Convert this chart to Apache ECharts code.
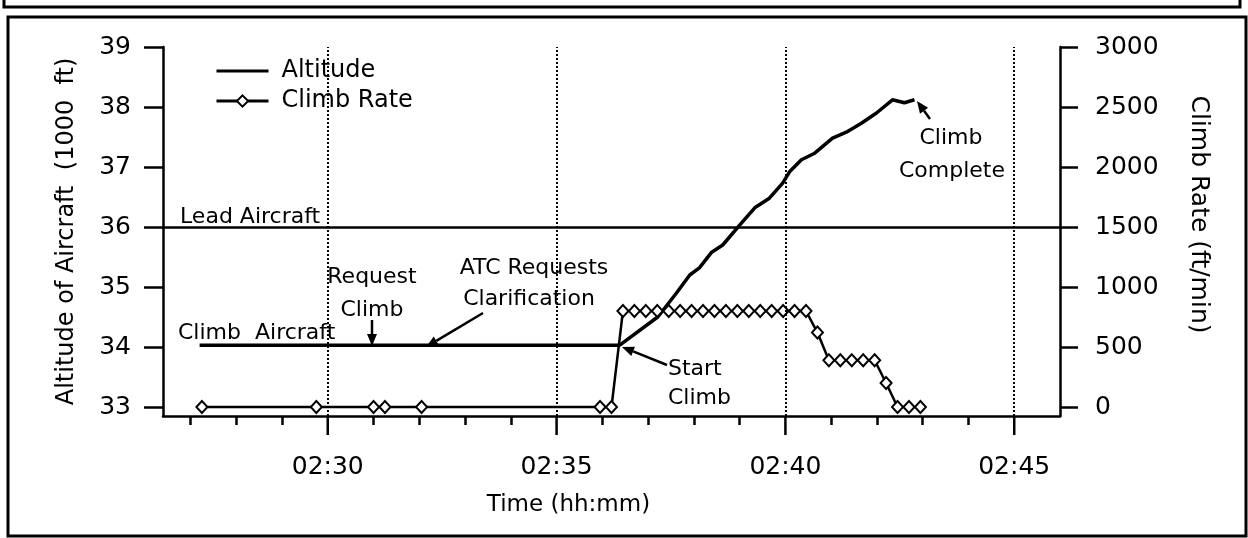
<!DOCTYPE html>
<html>
<head>
<meta charset="utf-8">
<title>Climb profile</title>
<script src="https://cdn.jsdelivr.net/npm/echarts@6/dist/echarts.min.js"></script>
<style>
  html, body { margin: 0; padding: 0; background: #fff; }
  #chart { width: 1248px; height: 538px; }
</style>
</head>
<body>
<div id="chart"></div>
<script>
  // times are minutes after 02:00
  const altTimes = [27.2, 36.38, 37.21, 37.62, 37.91, 38.12, 38.39, 38.63, 39.0, 39.33, 39.65,
    39.94, 40.09, 40.35, 40.64, 41.03, 41.33, 41.66, 41.99, 42.34, 42.6, 42.82];
  const altValues = [34.03, 34.03, 34.5, 34.9, 35.2, 35.32, 35.58, 35.7, 36.03, 36.32, 36.48,
    36.73, 36.92, 37.12, 37.23, 37.48, 37.58, 37.73, 37.9, 38.12, 38.07, 38.12];

  const climbTimes = [27.25, 29.75, 31.0, 31.25, 32.05, 35.95, 36.2,
    36.45, 36.7, 36.95, 37.2, 37.45, 37.7, 37.95, 38.2, 38.45, 38.7, 38.95, 39.2, 39.45, 39.7, 39.95, 40.2, 40.45,
    40.7, 40.95, 41.2, 41.45, 41.7, 41.95, 42.2, 42.45, 42.7, 42.95];
  const climbRates = [0, 0, 0, 0, 0, 0, 0,
    800, 800, 800, 800, 800, 800, 800, 800, 800, 800, 800, 800, 800, 800, 800, 800, 800,
    620, 390, 390, 390, 390, 390, 200, 0, 0, 0];

  const majorTicks = [30, 35, 40, 45];
  const minorTicks = [27, 28, 29, 31, 32, 33, 34, 36, 37, 38, 39, 41, 42, 43, 44];
  const altTicks = [33, 34, 35, 36, 37, 38, 39];
  const rateTicks = [0, 500, 1000, 1500, 2000, 2500, 3000];
  const leadAltitude = 36;

  const font = '"DejaVu Sans", sans-serif';
  const altMin = 32.85;

  // notes drawn on top of the plot
  const notes = [
    { text: 'Lead Aircraft', x: 180, y: 217, align: 'left' },
    { text: 'Climb  Aircraft', x: 178, y: 333, align: 'left' },
    { text: 'Request', x: 372, y: 277, align: 'center' },
    { text: 'Climb', x: 372, y: 310, align: 'center' },
    { text: 'ATC Requests', x: 534, y: 268, align: 'center' },
    { text: 'Clarification', x: 529, y: 299, align: 'center' },
    { text: 'Start', x: 668, y: 369, align: 'left' },
    { text: 'Climb', x: 668, y: 398, align: 'left' },
    { text: 'Climb', x: 951, y: 138, align: 'center' },
    { text: 'Complete', x: 952, y: 171, align: 'center' }
  ];
  const arrows = [
    [372, 320, 372, 346],
    [483, 313, 426, 347],
    [667, 365, 622, 347],
    [930, 119, 917, 101]
  ];

  function arrow(x1, y1, x2, y2) {
    const a = Math.atan2(y2 - y1, x2 - x1);
    const len = 12, w = 5;
    const bx = x2 - len * Math.cos(a), by = y2 - len * Math.sin(a);
    const px = -Math.sin(a) * w, py = Math.cos(a) * w;
    return [
      { type: 'line', silent: true, shape: { x1: x1, y1: y1, x2: bx, y2: by },
        style: { stroke: '#000', lineWidth: 2.5 } },
      { type: 'polygon', silent: true, shape: { points: [[x2, y2], [bx + px, by + py], [bx - px, by - py]] },
        style: { fill: '#000' } }
    ];
  }

  const graphics = [
    // frame lines of the scanned page
    { type: 'polyline', silent: true, shape: { points: [[4, 0], [4, 7], [1240, 7], [1240, 0]] },
      style: { stroke: '#000', lineWidth: 3, fill: null } },
    { type: 'rect', silent: true, shape: { x: 8, y: 17, width: 1238, height: 519 },
      style: { stroke: '#000', lineWidth: 3, fill: null } }
  ];
  notes.forEach(function (n) {
    graphics.push({
      type: 'text', silent: true, x: n.x, y: n.y, z: 10,
      style: { text: n.text, fill: '#000', font: '22px ' + font, textAlign: n.align, textVerticalAlign: 'middle' }
    });
  });
  arrows.forEach(function (a) {
    arrow(a[0], a[1], a[2], a[3]).forEach(function (g) { g.z = 10; graphics.push(g); });
  });

  const axisLine = { show: true, onZero: false, lineStyle: { color: '#000', width: 2.5 } };

  const option = {
    animation: false,
    backgroundColor: '#fff',
    textStyle: { fontFamily: font, color: '#000' },
    grid: { left: 163, right: 188, top: 47, bottom: 122 },
    legend: {
      orient: 'vertical',
      left: 210,
      top: 54,
      itemWidth: 52,
      itemHeight: 14,
      itemGap: 6,
      data: [
        { name: 'Altitude', itemStyle: { opacity: 0 }, lineStyle: { width: 3 } },
        { name: 'Climb Rate', lineStyle: { width: 3 } }
      ],
      textStyle: { fontSize: 24, fontFamily: font, color: '#000', lineHeight: 24, padding: [0, 0, 0, 8] }
    },
    xAxis: [{
      type: 'value', min: 26.4, max: 46, position: 'bottom',
      axisLine: axisLine,
      axisTick: { show: true, customValues: minorTicks, length: 9, lineStyle: { color: '#000', width: 2.5 } },
      axisLabel: {
        customValues: majorTicks, fontSize: 25, margin: 39, color: '#000', fontFamily: font,
        formatter: function (v) { return '02:' + (v < 10 ? '0' : '') + v; }
      },
      splitLine: { show: false },
      name: 'Time (hh:mm)', nameLocation: 'middle', nameGap: 78,
      nameTextStyle: { fontSize: 23, color: '#000', fontFamily: font, padding: [0, 86, 0, 0] }
    }],
    yAxis: [{
      type: 'value', min: altMin, max: 39, position: 'left',
      axisLine: axisLine,
      axisTick: { show: true, customValues: altTicks, length: 19, lineStyle: { color: '#000', width: 2.5 } },
      axisLabel: { customValues: altTicks, fontSize: 25, margin: 32, color: '#000', fontFamily: font },
      splitLine: { show: false },
      name: 'Altitude of Aircraft  (1000  ft)', nameLocation: 'middle', nameGap: 84, nameRotate: 90,
      nameTextStyle: { fontSize: 24, color: '#000', fontFamily: font }
    }, {
      type: 'value', min: -75, max: 3000, position: 'right',
      axisLine: axisLine,
      axisTick: { show: true, customValues: rateTicks, length: 18, lineStyle: { color: '#000', width: 2.5 } },
      axisLabel: {
        customValues: rateTicks, fontSize: 25, margin: 35, color: '#000', fontFamily: font,
        formatter: function (v) { return String(v); }
      },
      splitLine: { show: false },
      name: 'Climb Rate (ft/min)', nameLocation: 'middle', nameGap: 126, nameRotate: -90,
      nameTextStyle: { fontSize: 25, color: '#000', fontFamily: font, padding: [0, 34, 0, 0] }
    }],
    series: [{
      name: 'Altitude',
      type: 'line',
      data: altTimes.map(function (t, i) { return [t, altValues[i]]; }),
      symbol: 'none',
      itemStyle: { color: '#000' },
      lineStyle: { color: '#000', width: 3.5 },
      z: 3,
      markLine: {
        silent: true,
        symbol: 'none',
        label: { show: false },
        data: majorTicks.map(function (t) {
          return { xAxis: t, lineStyle: { type: 'dotted', color: '#000', width: 2 } };
        }).concat([{ yAxis: leadAltitude, lineStyle: { type: 'solid', color: '#000', width: 2.5 } }])
      }
    }, {
      name: 'Climb Rate',
      type: 'line',
      yAxisIndex: 1,
      data: climbTimes.map(function (t, i) { return [t, climbRates[i]]; }),
      symbol: 'emptyDiamond',
      symbolSize: [11, 12],
      itemStyle: { color: '#000', borderColor: '#000', borderWidth: 2 },
      lineStyle: { color: '#000', width: 2.5 },
      z: 4
    }],
    graphic: graphics
  };

  const chart = echarts.init(document.getElementById('chart'));
  chart.setOption(option);

  // long ticks at the labelled times, placed through the x scale
  majorTicks.forEach(function (t) {
    const p = chart.convertToPixel({ gridIndex: 0 }, [t, altMin]);
    graphics.push({
      type: 'line', silent: true, z: 10,
      shape: { x1: p[0], y1: p[1], x2: p[0], y2: p[1] + 19 },
      style: { stroke: '#000', lineWidth: 2.5 }
    });
  });
  chart.setOption({ graphic: graphics });
</script>
</body>
</html>
